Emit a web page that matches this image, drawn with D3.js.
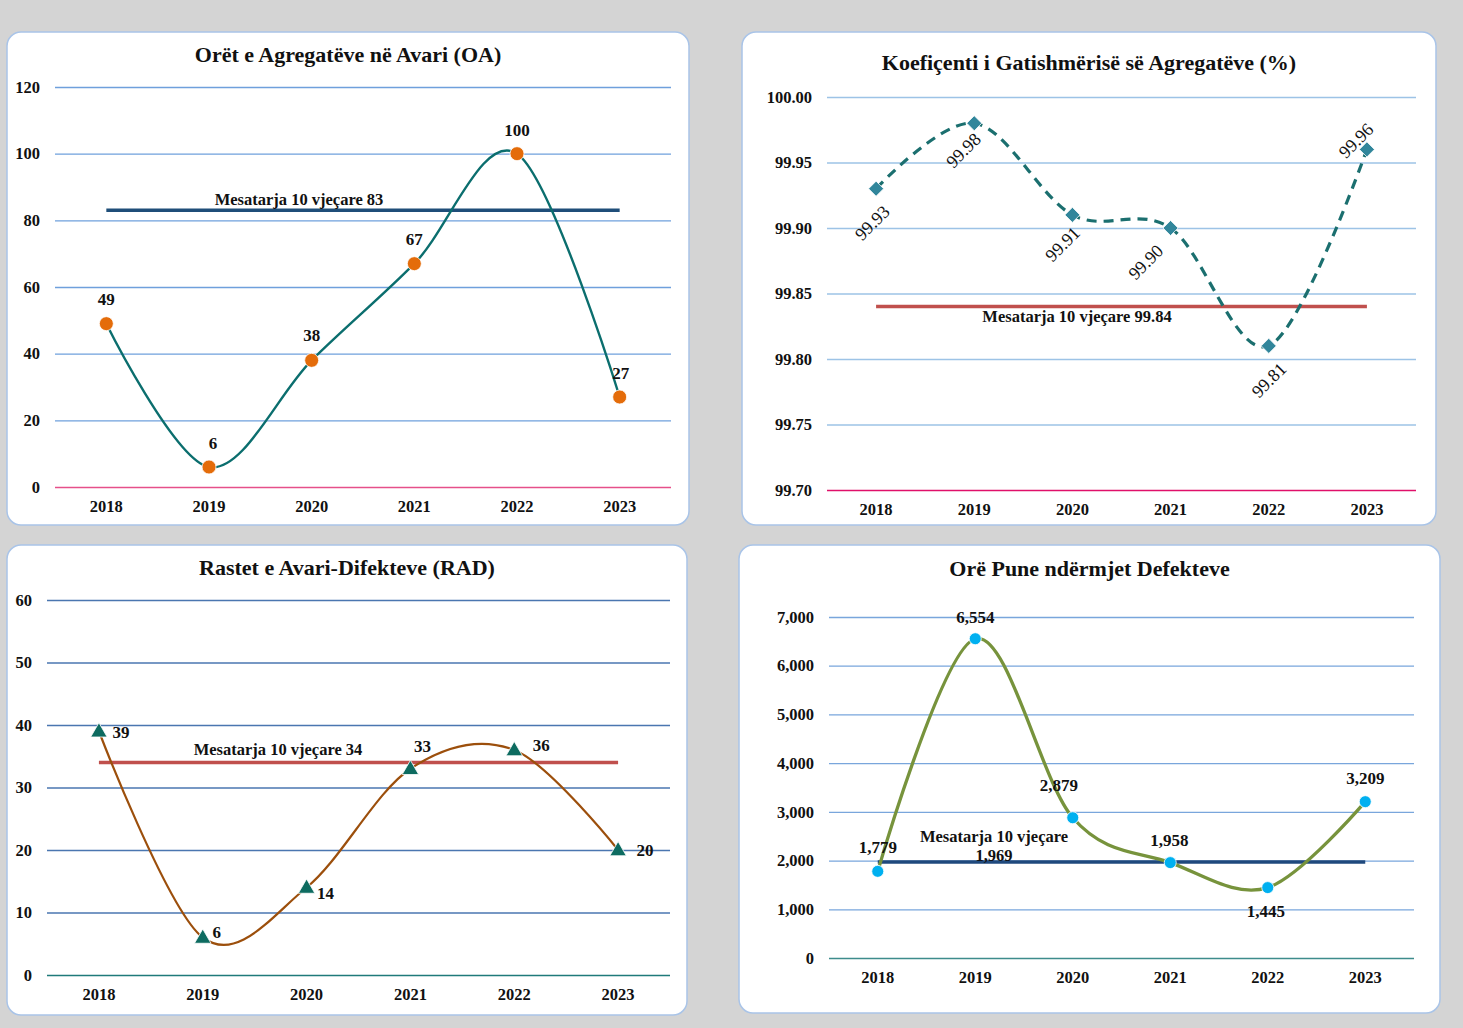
<!DOCTYPE html>
<html>
<head>
<meta charset="utf-8">
<script src="https://cdn.jsdelivr.net/npm/d3@7"></script>
<style>
  body { margin: 0; background: #d4d4d4; }
  svg { display: block; }
  text { font-family: "Liberation Serif", "Times New Roman", serif; fill: #111; }
</style>
</head>
<body>
<div id="chart"></div>
<script>
// Data
var years = ["2018", "2019", "2020", "2021", "2022", "2023"];

var oaHours = [49, 6, 38, 67, 100, 27];
var oaMean = 83;
var oaTicks = [0, 20, 40, 60, 80, 100, 120];

var readiness = [99.93, 99.98, 99.91, 99.90, 99.81, 99.96];
var readinessMean = 99.84;
var readinessTicks = [99.70, 99.75, 99.80, 99.85, 99.90, 99.95, 100.00];

var radCases = [39, 6, 14, 33, 36, 20];
var radMean = 34;
var radTicks = [0, 10, 20, 30, 40, 50, 60];

var mtbfHours = [1779, 6554, 2879, 1958, 1445, 3209];
var mtbfMean = 1969;
var mtbfTicks = [0, 1000, 2000, 3000, 4000, 5000, 6000, 7000];

// Panel layout + styling
var panels = [
  {
    title: "Orët e Agregatëve në Avari (OA)", values: oaHours, mean: oaMean, ticks: oaTicks,
    box: [7, 32, 682, 493], plot: [55, 671, 87, 487], titleY: 62,
    fmt: d3.format("d"), labelFmt: d3.format("d"),
    grid: "#6fa0dc", zero: "#e6508a", line: "#0b6e6e", lineWidth: 2.4, dash: null,
    meanColor: "#1f4e79", meanLabel: ["Mesatarja 10 vjeçare 83"], meanLabelPos: [299, 205],
    marker: "circle", markerColor: "#e46c0a", markerSize: 7,
    labelBold: true, labelRotate: 0,
    offsets: [[0, -19], [4, -18], [0, -19], [0, -19], [0, -18], [1, -18]]
  },
  {
    title: "Koefiçenti i Gatishmërisë së Agregatëve (%)", values: readiness, mean: readinessMean, ticks: readinessTicks,
    box: [742, 32, 694, 493], plot: [827, 1416, 97, 490], titleY: 70,
    fmt: d3.format(".2f"), labelFmt: d3.format(".2f"),
    grid: "#9dc3e6", zero: "#e0106a", line: "#1b6f6f", lineWidth: 3.2, dash: "10,7",
    meanColor: "#c0504d", meanLabel: ["Mesatarja 10 vjeçare 99.84"], meanLabelPos: [1077, 322],
    marker: "diamond", markerColor: "#31869b", markerSize: 8.5,
    labelBold: false, labelRotate: -45,
    offsets: [[-4, 34], [-11, 27], [-10, 29], [-25, 34], [0, 34], [-11, -9]]
  },
  {
    title: "Rastet e Avari-Difekteve (RAD)", values: radCases, mean: radMean, ticks: radTicks,
    box: [7, 545, 680, 470], plot: [47, 670, 600, 975], titleY: 575,
    fmt: d3.format("d"), labelFmt: d3.format("d"),
    grid: "#4a76b0", zero: "#1f7a7a", line: "#9c4f0c", lineWidth: 2.2, dash: null,
    meanColor: "#c0504d", meanLabel: ["Mesatarja 10 vjeçare 34"], meanLabelPos: [278, 755],
    marker: "triangle", markerColor: "#0d6b60", markerSize: 9.5,
    labelBold: true, labelRotate: 0,
    offsets: [[22, 7], [14, 0], [19, 11], [12, -17], [27, 1], [27, 6]]
  },
  {
    title: "Orë Pune ndërmjet Defekteve", values: mtbfHours, mean: mtbfMean, ticks: mtbfTicks,
    box: [739, 545, 701, 468], plot: [829, 1414, 617, 958], titleY: 576,
    fmt: d3.format(","), labelFmt: d3.format(","),
    grid: "#79a6dc", zero: "#3d8c8c", line: "#77933c", lineWidth: 3.3, dash: null,
    meanColor: "#1f497d", meanLabel: ["Mesatarja 10 vjeçare", "1,969"], meanLabelPos: [994, 842],
    marker: "circle", markerColor: "#00b0f0", markerSize: 6,
    labelBold: true, labelRotate: 0,
    offsets: [[0, -18], [0, -16], [-14, -27], [-1, -17], [-2, 29], [0, -18]]
  }
];

var svg = d3.select("#chart").append("svg")
  .attr("width", 1463)
  .attr("height", 1028);

svg.append("rect").attr("width", 1463).attr("height", 1028).attr("fill", "#d4d4d4");

panels.forEach(function(p) {
  var g = svg.append("g");

  // white card
  g.append("rect")
    .attr("x", p.box[0]).attr("y", p.box[1])
    .attr("width", p.box[2]).attr("height", p.box[3])
    .attr("rx", 14).attr("ry", 14)
    .attr("fill", "#fff")
    .attr("stroke", "#a9c4e8")
    .attr("stroke-width", 1.5);

  g.append("text")
    .attr("x", p.box[0] + p.box[2] / 2)
    .attr("y", p.titleY)
    .attr("text-anchor", "middle")
    .style("font-size", "22px")
    .style("font-weight", "bold")
    .text(p.title);

  var x = d3.scaleBand().domain(years).range([p.plot[0], p.plot[1]]).padding(0);
  var y = d3.scaleLinear().domain([p.ticks[0], p.ticks[p.ticks.length - 1]]).range([p.plot[3], p.plot[2]]);
  var w = p.plot[1] - p.plot[0];

  // y axis with gridlines
  var yAx = g.append("g")
    .attr("transform", "translate(" + p.plot[0] + ",0)")
    .call(d3.axisLeft(y).tickValues(p.ticks).tickFormat(p.fmt).tickSize(-w).tickPadding(15));
  yAx.select(".domain").remove();
  yAx.selectAll(".tick line")
    .attr("stroke", function(d, i) { return i === 0 ? p.zero : p.grid; })
    .attr("stroke-width", 1.3);
  yAx.selectAll(".tick text")
    .attr("fill", "#111")
    .style("font-family", "Liberation Serif, serif")
    .style("font-size", "16.5px")
    .style("font-weight", "bold");

  // x axis labels
  var xAx = g.append("g")
    .attr("transform", "translate(0," + p.plot[3] + ")")
    .call(d3.axisBottom(x).tickSize(0).tickPadding(13));
  xAx.select(".domain").remove();
  xAx.selectAll(".tick text")
    .attr("fill", "#111")
    .style("font-family", "Liberation Serif, serif")
    .style("font-size", "16.5px")
    .style("font-weight", "bold");

  var cx = function(i) { return x(years[i]) + x.bandwidth() / 2; };

  // 10-year mean line
  g.append("line")
    .attr("x1", cx(0)).attr("x2", cx(years.length - 1))
    .attr("y1", y(p.mean)).attr("y2", y(p.mean))
    .attr("stroke", p.meanColor)
    .attr("stroke-width", 3.5);

  var ml = g.append("text")
    .attr("text-anchor", "middle")
    .style("font-size", "16.5px")
    .style("font-weight", "bold");
  p.meanLabel.forEach(function(s, i) {
    ml.append("tspan")
      .attr("x", p.meanLabelPos[0])
      .attr("y", p.meanLabelPos[1] + i * 19)
      .text(s);
  });

  // smoothed series line
  var line = d3.line()
    .x(function(d, i) { return cx(i); })
    .y(function(d) { return y(d); })
    .curve(d3.curveCatmullRom.alpha(0));

  g.append("path")
    .datum(p.values)
    .attr("fill", "none")
    .attr("stroke", p.line)
    .attr("stroke-width", p.lineWidth)
    .attr("stroke-dasharray", p.dash)
    .attr("d", line);

  // markers
  var sym = { circle: d3.symbolCircle, diamond: d3.symbolDiamond2, triangle: d3.symbolTriangle }[p.marker];
  var area = p.marker === "circle" ? Math.PI * p.markerSize * p.markerSize
           : p.marker === "diamond" ? 2 * p.markerSize * p.markerSize
           : 1.3 * p.markerSize * p.markerSize;
  g.selectAll(".mk")
    .data(p.values)
    .enter().append("path")
    .attr("transform", function(d, i) {
      var ty = p.marker === "triangle" ? y(d) + 1 : y(d);
      return "translate(" + cx(i) + "," + ty + ")";
    })
    .attr("d", d3.symbol().type(sym).size(area))
    .attr("fill", p.markerColor)
    .attr("stroke", "#fff")
    .attr("stroke-width", 0.8);

  // data labels
  g.selectAll(".lbl")
    .data(p.values)
    .enter().append("text")
    .attr("transform", function(d, i) {
      var lx = cx(i) + p.offsets[i][0], ly = y(d) + p.offsets[i][1];
      return "translate(" + lx + "," + ly + ") rotate(" + p.labelRotate + ")";
    })
    .attr("text-anchor", "middle")
    .attr("dy", p.labelRotate ? "0.35em" : "0")
    .style("font-size", p.labelRotate ? "18px" : "17px")
    .style("font-weight", p.labelBold ? "bold" : "normal")
    .text(function(d) { return p.labelFmt(d); });
});
</script>
</body>
</html>
